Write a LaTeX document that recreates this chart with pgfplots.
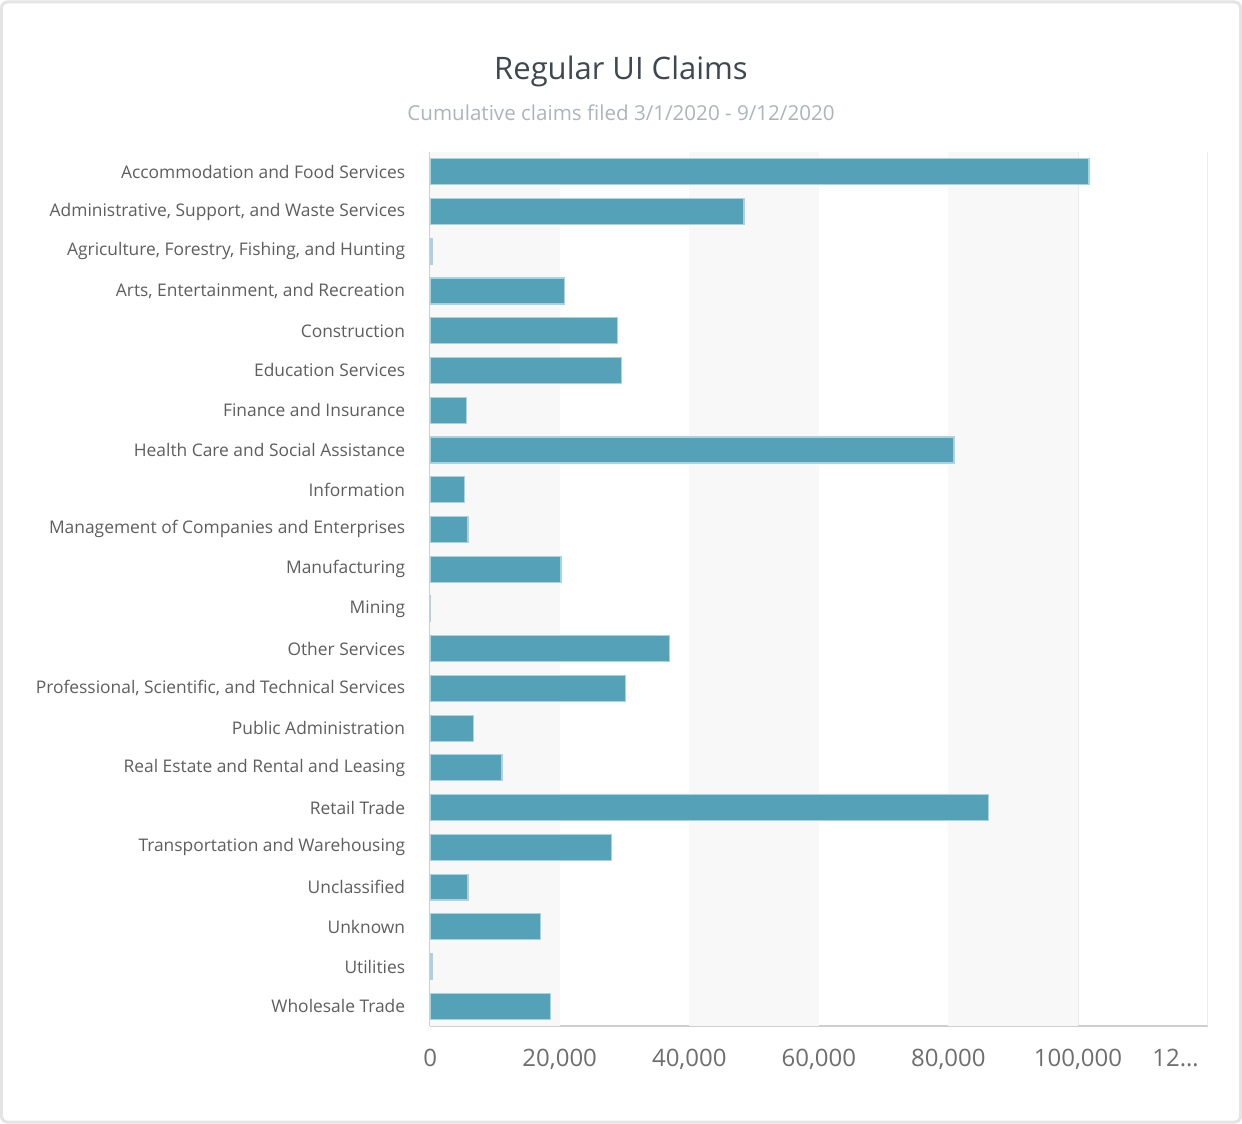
\documentclass[border=0pt]{standalone}
\usepackage{fontspec}
\setmainfont{Open Sans}
\usepackage{pgfplots}
\pgfplotsset{compat=1.18}
\definecolor{barc}{HTML}{55A1B8}
\definecolor{barb}{HTML}{A9D3E0}
\definecolor{band}{HTML}{F8F8F8}
\definecolor{gridc}{HTML}{EBEBEB}
\definecolor{axc}{HTML}{CFCFCF}
\definecolor{ttl}{HTML}{3D4852}
\definecolor{sub}{HTML}{AEB4BB}
\definecolor{lab}{HTML}{5E5E5E}
\definecolor{tck}{HTML}{6E6E6E}
\definecolor{frame}{HTML}{E4E4E4}

\pgfplotstableread{
idx val
0 101700
1 48450
2 300
3 20700
4 28900
5 29500
6 5550
7 80850
8 5250
9 5850
10 20200
11 100
12 36900
13 30100
14 6650
15 11100
16 86250
17 27950
18 5850
19 17000
20 300
21 18550
}\claims

\begin{document}
\begin{tikzpicture}
% page frame
\fill[white] (0pt,0pt) rectangle (621pt,562pt);
\draw[frame, line width=1.5pt, rounded corners=3pt] (0.5pt,0.5pt) rectangle (620.5pt,561pt);
\node[font=\fontsize{15.5}{18}\selectfont, text=ttl] at (310.5pt,526pt) {Regular UI Claims};
\node[font=\fontsize{10.3}{12}\selectfont, text=sub] at (310.5pt,505.5pt) {Cumulative claims filed 3/1/2020 - 9/12/2020};
\begin{axis}[
  at={(215pt,48.5pt)}, anchor=south west,
  scale only axis, width=389pt, height=437.5pt,
  xmin=0, xmax=120000, ymin=-0.5, ymax=21.5,
  y dir=reverse,
  xbar, bar width=13pt,
  axis lines=left,
  axis line style={-, draw=axc, line width=1pt},
  scaled x ticks=false,
  xtick={0,20000,40000,60000,80000,100000},
  xticklabels={0,{20,000},{40,000},{60,000},{80,000},{100,000}},
  extra x ticks={120000},
  extra x tick labels={12…},
  extra x tick style={grid=major, xticklabel style={xshift=-16pt}},
  xmajorgrids, grid style={gridc, line width=0.6pt},
  major tick length=0pt,
  xticklabel style={font=\fontsize{12}{14}\selectfont, text=tck, yshift=-8pt},
  ytick={0,...,21},
  yticklabels={Accommodation and Food Services,
    {Administrative, Support, and Waste Services},
    {Agriculture, Forestry, Fishing, and Hunting},
    {Arts, Entertainment, and Recreation},
    Construction, Education Services, Finance and Insurance,
    Health Care and Social Assistance, Information,
    Management of Companies and Enterprises, Manufacturing, Mining,
    Other Services, {Professional, Scientific, and Technical Services},
    Public Administration, Real Estate and Rental and Leasing,
    Retail Trade, Transportation and Warehousing, Unclassified,
    Unknown, Utilities, Wholesale Trade},
  yticklabel style={font=\fontsize{8.7}{10}\selectfont, text=lab, xshift=-9pt},
  clip=false,
]
\fill[band] (axis cs:0,-0.5) rectangle (axis cs:20000,21.5);
\fill[band] (axis cs:40000,-0.5) rectangle (axis cs:60000,21.5);
\fill[band] (axis cs:80000,-0.5) rectangle (axis cs:100000,21.5);
\addplot[fill=barc, draw=barb, line width=0.6pt] table[x=val, y=idx] {\claims};
\end{axis}
\end{tikzpicture}
\end{document}
